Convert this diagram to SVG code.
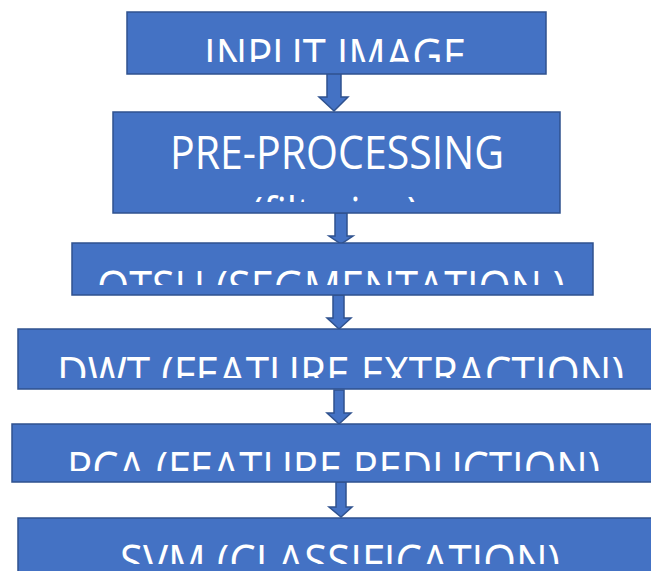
<svg xmlns="http://www.w3.org/2000/svg" width="651" height="571" viewBox="0 0 651 571">
  <style>
    .box { fill: #4472C4; stroke: #2F528F; stroke-width: 1.5; }
    .arrow { fill: #4472C4; stroke: #2F528F; stroke-width: 1.5; stroke-linejoin: miter; }
    .label { fill: #FFFFFF; font-family: "Open Sans", "Liberation Sans", sans-serif; font-size: 45px; }
  </style>
  <defs>
    <clipPath id="clip-input"><rect x="127" y="12" width="419" height="50"/></clipPath>
    <clipPath id="clip-pre"><rect x="113" y="112" width="447" height="90"/></clipPath>
    <clipPath id="clip-otsu"><rect x="72" y="243" width="521" height="42"/></clipPath>
    <clipPath id="clip-dwt"><rect x="18" y="329" width="640" height="49"/></clipPath>
    <clipPath id="clip-pca"><rect x="12" y="424" width="646" height="47"/></clipPath>
    <clipPath id="clip-svm"><rect x="18" y="518" width="640" height="46"/></clipPath>
  </defs>

  <g id="connectors">
    <polygon class="arrow" points="327,73 341,73 341,97 348,97 334,111 319,97 327,97"/>
    <polygon class="arrow" points="335,213 347,213 347,236 353,236 341,244 329,236 335,236"/>
    <polygon class="arrow" points="333,295 344,295 344,318 351,318 339,329 327,318 333,318"/>
    <polygon class="arrow" points="334,390 344,390 344,413 351,413 339,424 327,413 334,413"/>
    <polygon class="arrow" points="336,482 346,482 346,507 352,507 341,517 329,507 336,507"/>
  </g>

  <g id="input-image">
    <rect class="box" x="127" y="12" width="419" height="62"/>
    <text class="label" clip-path="url(#clip-input)" x="204" y="72" textLength="262" lengthAdjust="spacingAndGlyphs">INPUT IMAGE</text>
  </g>

  <g id="pre-processing">
    <rect class="box" x="113" y="112" width="447" height="101"/>
    <g clip-path="url(#clip-pre)">
      <text class="label" x="170" y="169" textLength="334" lengthAdjust="spacingAndGlyphs">PRE-PROCESSING</text>
      <text class="label" x="251" y="230" textLength="168" lengthAdjust="spacingAndGlyphs">(filtering)</text>
    </g>
  </g>

  <g id="otsu">
    <rect class="box" x="72" y="243" width="521" height="52"/>
    <text class="label" clip-path="url(#clip-otsu)" x="97" y="304" textLength="468" lengthAdjust="spacingAndGlyphs">OTSU (SEGMENTATION )</text>
  </g>

  <g id="dwt">
    <rect class="box" x="18" y="329" width="650" height="60"/>
    <text class="label" clip-path="url(#clip-dwt)" x="57" y="390" textLength="567" lengthAdjust="spacingAndGlyphs">DWT (FEATURE EXTRACTION)</text>
  </g>

  <g id="pca">
    <rect class="box" x="12" y="424" width="656" height="58"/>
    <text class="label" clip-path="url(#clip-pca)" x="67" y="485" textLength="533" lengthAdjust="spacingAndGlyphs">PCA (FEATURE REDUCTION)</text>
  </g>

  <g id="svm">
    <rect class="box" x="18" y="518" width="650" height="70"/>
    <text class="label" clip-path="url(#clip-svm)" x="120" y="578" textLength="440" lengthAdjust="spacingAndGlyphs">SVM (CLASSIFICATION)</text>
  </g>
</svg>
